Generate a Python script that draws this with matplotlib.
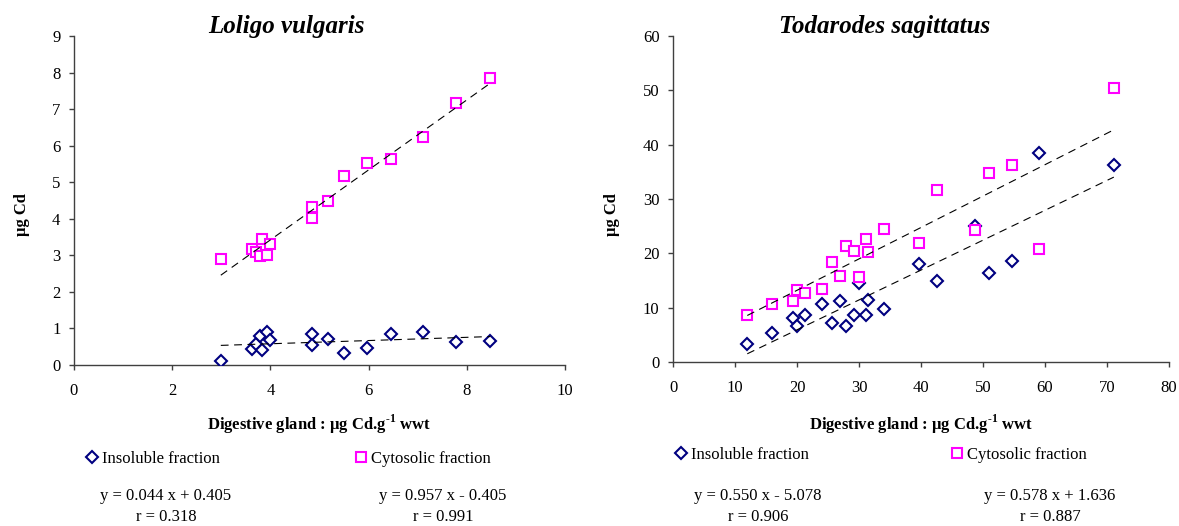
import numpy as np
import matplotlib.pyplot as plt

plt.rcParams['font.family'] = ['Liberation Serif', 'DejaVu Serif']
plt.rcParams['mathtext.fontset'] = 'custom'
plt.rcParams['mathtext.rm'] = 'Liberation Serif:bold'
plt.rcParams['mathtext.bf'] = 'Liberation Serif:bold'

# Loligo vulgaris (digestive gland vs fractions)
loligo_x = [2.99, 3.62, 3.70, 3.78, 3.83, 3.94, 4.00, 4.85, 4.85, 5.18,
            5.49, 5.96, 6.45, 7.11, 7.77, 8.48]
loligo_insoluble = [0.10, 0.44, 0.58, 0.79, 0.40, 0.91, 0.69, 0.86, 0.54, 0.70,
                    0.33, 0.46, 0.84, 0.89, 0.62, 0.67]
loligo_cytosolic = [2.90, 3.18, 3.10, 2.98, 3.44, 3.02, 3.31, 4.32, 4.01, 4.50,
                    5.18, 5.52, 5.63, 6.25, 7.17, 7.84]
loligo_fit = [(0.044, 0.405, 0.318), (0.957, -0.405, 0.991)]

# Todarodes sagittatus
todarodes_x = [11.98, 15.97, 19.3, 19.95, 21.3, 24.0, 25.7, 27.0, 27.96, 29.2,
               29.95, 31.1, 31.5, 34.0, 39.7, 42.6, 48.7, 51.0, 54.7, 59.1, 71.1]
todarodes_insoluble = [3.3, 5.35, 8.06, 6.7, 8.67, 10.6, 7.26, 11.2, 6.64, 8.67,
                       14.5, 8.67, 11.4, 9.7, 18.0, 15.0, 25.0, 16.4, 18.6, 38.4, 36.3]
todarodes_cytosolic = [8.67, 10.7, 11.3, 13.3, 12.7, 13.4, 18.45, 15.9, 21.4, 20.5,
                       15.6, 22.6, 20.2, 24.5, 21.9, 31.7, 24.3, 34.7, 36.3, 20.8, 50.4]
todarodes_fit = [(0.550, -5.078, 0.906), (0.578, 1.636, 0.887)]

NAVY = '#000080'
MAGENTA = '#FF00FF'
AXIS_COL = '#404040'

W, H = 1179, 526


def fx(x):
    return x / W


def fy(y):
    return 1 - y / H


def eq_text(slope, icpt):
    sign = '+' if icpt >= 0 else '-'
    return f'y = {slope:.3f} x {sign} {abs(icpt):.3f}'


def draw_panel(ax, x, ins, cyt, fits, xmax, xstep, ymax, ystep):
    h_ins, = ax.plot(x, ins, ls='none', marker='D', ms=6, mfc='white',
                     mec=NAVY, mew=1.5, zorder=3)
    h_cyt, = ax.plot(x, cyt, ls='none', marker='s', ms=7.8, mfc='white',
                     mec=MAGENTA, mew=1.5, zorder=4)
    xs = np.array([min(x), max(x)])
    for slope, icpt, _ in fits:
        ax.plot(xs, slope * xs + icpt, color='black', lw=0.8,
                dashes=(7, 5), zorder=5)

    ax.set_xlim(0, xmax)
    ax.set_ylim(0, ymax)
    ax.set_xticks(np.arange(0, xmax + 0.1, xstep))
    ax.set_yticks(np.arange(0, ymax + 0.1, ystep))
    for side in ['top', 'right']:
        ax.spines[side].set_visible(False)
    for side in ['left', 'bottom']:
        ax.spines[side].set_color(AXIS_COL)
        ax.spines[side].set_linewidth(1)
    ax.tick_params(direction='out', length=3.8, width=1, color=AXIS_COL,
                   labelsize=12)
    ax.tick_params(axis='x', pad=9)
    ax.tick_params(axis='y', pad=6)
    return h_ins, h_cyt


fig = plt.figure(figsize=(W / 100, H / 100), dpi=100)
ax_l = fig.add_axes([fx(74), fy(365), (565 - 74) / W, (365 - 36) / H])
ax_r = fig.add_axes([fx(673), fy(362), (1169 - 673) / W, (362 - 36) / H])

panels = [
    (ax_l, 'Loligo vulgaris', loligo_x, loligo_insoluble, loligo_cytosolic,
     loligo_fit, 10, 2, 9, 1, 286, 22, 459, [92.3, 360.7], [166, 443]),
    (ax_r, 'Todarodes sagittatus', todarodes_x, todarodes_insoluble,
     todarodes_cytosolic, todarodes_fit, 80, 10, 60, 10, 885, 612, 455,
     [680.7, 957.3], [758, 1050]),
]

for (ax, title, x, ins, cyt, fits, xmax, xstep, ymax, ystep,
     title_x, ylab_x, leg_y, leg_x, eq_x) in panels:
    h_ins, h_cyt = draw_panel(ax, x, ins, cyt, fits, xmax, xstep, ymax, ystep)

    fig.text(fx(title_x), fy(27), title, ha='center', va='center',
             fontsize=18, fontweight='bold', fontstyle='italic')
    fig.text(fx(ylab_x), fy(215), 'µg Cd', ha='center', va='center',
             rotation=90, fontsize=12, fontweight='bold')
    bb = ax.get_position()
    fig.text((bb.x0 + bb.x1) / 2, fy(424),
             r'Digestive gland : µg Cd.g$^{\text{-1}}$ wwt',
             ha='center', va='center', fontsize=12, fontweight='bold')

    for handle, label, lx in zip([h_ins, h_cyt],
                                 ['Insoluble fraction', 'Cytosolic fraction'],
                                 leg_x):
        fig.legend([handle], [label], loc='center left',
                   bbox_to_anchor=(fx(lx - 6.7), fy(leg_y)),
                   frameon=False, borderpad=0, borderaxespad=0,
                   handlelength=0.8, handletextpad=0.2, fontsize=12)

    for (slope, icpt, r), ex in zip(fits, eq_x):
        fig.text(fx(ex), fy(496), eq_text(slope, icpt), ha='center',
                 va='center', fontsize=12)
        fig.text(fx(ex), fy(517), f'r = {r:.3f}', ha='center',
                 va='center', fontsize=12)

fig.savefig('out.png', dpi=100)
